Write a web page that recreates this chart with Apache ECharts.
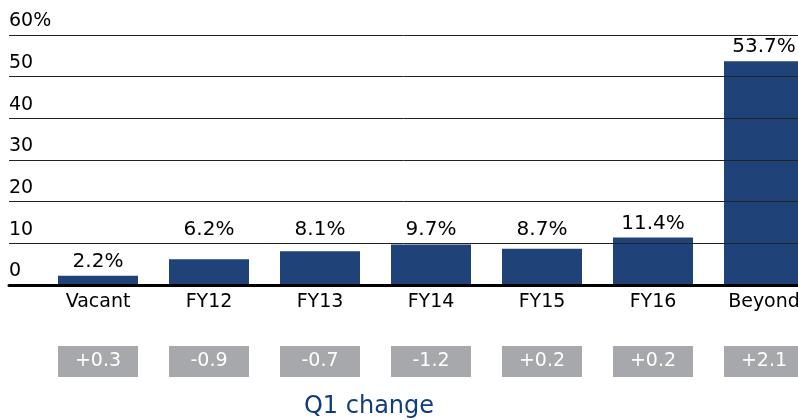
<!DOCTYPE html>
<html>
<head>
<meta charset="utf-8">
<script src="https://cdn.jsdelivr.net/npm/echarts@6/dist/echarts.min.js"></script>
<style>
  html, body { margin: 0; padding: 0; background: #fff; }
  #chart { width: 798px; height: 420px; }
</style>
</head>
<body>
<div id="chart"></div>
<script>
// data
var categories = ['Vacant', 'FY12', 'FY13', 'FY14', 'FY15', 'FY16', 'Beyond']
var shareValues = [2.2, 6.2, 8.1, 9.7, 8.7, 11.4, 53.7]
var q1Change = ['+0.3', '-0.9', '-0.7', '-1.2', '+0.2', '+0.2', '+2.1']
var yTicks = [0, 10, 20, 30, 40, 50, 60]

var fontFam = '"DejaVu Sans", "Open Sans", sans-serif'
var plotHeight = 250 // grid height in px (top 35, bottom 135)
var unitPx = plotHeight / yTicks[yTicks.length - 1]
var labelFloor = 10 // small bars (5-10) get their label lifted above the 10 line

var myChart = echarts.init(document.getElementById('chart'))

var barData = shareValues.map(function(v) {
  var lift = (v > 5 && v < labelFloor) ? (labelFloor - v) * unitPx : 0
  return { value: v, label: { offset: [0, -lift] } }
})

var option = {
  animation: false,
  textStyle: { fontFamily: fontFam },
  title: {
    text: 'Q1 change',
    left: 364,
    top: 390,
    textAlign: 'center',
    textStyle: { color: '#0f3d80', fontSize: 24, fontWeight: 'normal', fontFamily: fontFam }
  },
  grid: [
    // bars
    { left: 42.5, width: 777, top: 35, bottom: 135, outerBoundsMode: 'none', containLabel: false },
    // gridlines that run across the full width
    { left: 9, right: 0, top: 35, bottom: 135, outerBoundsMode: 'none', containLabel: false }
  ],
  xAxis: [
    {
      type: 'category',
      gridIndex: 0,
      data: categories,
      axisLine: { show: false },
      axisTick: { show: false },
      axisLabel: { color: '#000', fontSize: 19, margin: 8, fontFamily: fontFam }
    },
    {
      // grey boxes with the Q1 change
      type: 'category',
      gridIndex: 0,
      position: 'bottom',
      data: q1Change,
      axisLine: { show: false },
      axisTick: { show: false },
      axisLabel: {
        margin: 61,
        color: '#fff',
        fontSize: 19,
        fontFamily: fontFam,
        backgroundColor: '#a7a8ab',
        width: 80,
        height: 31,
        lineHeight: 31,
        align: 'center'
      }
    },
    {
      type: 'value',
      gridIndex: 1,
      min: 0,
      max: 1,
      show: true,
      z: 10,
      axisLine: { show: true, onZero: false, lineStyle: { color: '#000', width: 3 } },
      axisTick: { show: false },
      axisLabel: { show: false },
      splitLine: { show: false }
    }
  ],
  yAxis: [
    {
      type: 'value',
      gridIndex: 0,
      min: 0,
      max: 60,
      interval: 10,
      show: false
    },
    {
      type: 'value',
      gridIndex: 1,
      min: 0,
      max: 60,
      interval: 10,
      z: 10,
      axisLine: { show: false },
      axisTick: { show: false },
      splitLine: { show: true, lineStyle: { color: '#222', width: 1 } },
      axisLabel: {
        inside: true,
        margin: 0,
        align: 'left',
        verticalAlign: 'bottom',
        padding: [0, 0, 4, 0],
        color: '#000',
        fontSize: 19,
        fontFamily: fontFam,
        formatter: function(v) {
          return v === yTicks[yTicks.length - 1] ? v + '%' : v
        }
      }
    }
  ],
  series: [
    {
      name: 'share',
      type: 'bar',
      xAxisIndex: 0,
      yAxisIndex: 0,
      z: 1,
      barWidth: 80,
      data: barData,
      itemStyle: { color: '#1f4279' },
      label: {
        show: true,
        position: 'top',
        distance: 4,
        color: '#000',
        fontSize: 20,
        fontFamily: fontFam,
        formatter: function(p) { return p.value.toFixed(1) + '%' }
      }
    }
  ]
}

myChart.setOption(option)
</script>
</body>
</html>
